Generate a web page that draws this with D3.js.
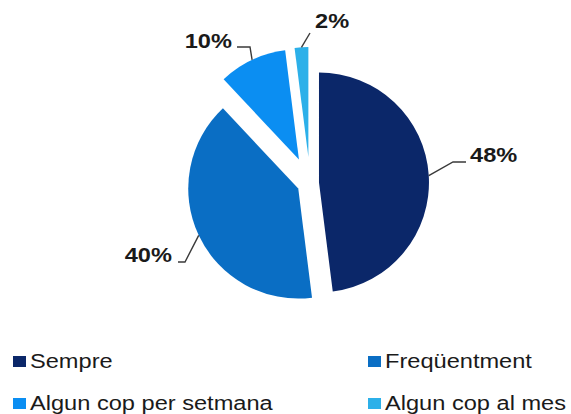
<!DOCTYPE html>
<html>
<head>
<meta charset="utf-8">
<script src="https://cdn.jsdelivr.net/npm/d3@7"></script>
<style>
  html, body { margin: 0; padding: 0; background: #fff; }
  svg { display: block; }
  text { font-family: "Liberation Sans", Arial, sans-serif; }
</style>
</head>
<body>
<svg id="chart" width="571" height="414"></svg>
<script>
// Survey answers: how often
const categories = ["Sempre", "Freqüentment", "Algun cop per setmana", "Algun cop al mes"];
const values = [48, 40, 10, 2];
const valueLabels = ["48%", "40%", "10%", "2%"];
const colors = ["#0b2769", "#0a6ec4", "#0b8ef2", "#2cb0e9"];

// Layout
const W = 571, H = 414;
const cx = 310, cy = 183, R = 110;
const explode = [9, 13, 26, 26];      // pull-out distance of each slice
const stretch = 1.18;                  // wide lettering

const svg = d3.select("#chart");

const pie = d3.pie().sort(null).value(d => d).startAngle(0).endAngle(2 * Math.PI);
const arcs = pie(values);
const arc = d3.arc().innerRadius(0).outerRadius(R);

const dir = a => [Math.sin(a), -Math.cos(a)];

const g = svg.append("g").attr("transform", `translate(${cx},${cy})`);

arcs.forEach((a, i) => {
  const mid = (a.startAngle + a.endAngle) / 2;
  const [ux, uy] = dir(mid);
  a.ox = ux * explode[i];
  a.oy = uy * explode[i];
  a.mid = mid;
});

g.selectAll("path.slice")
  .data(arcs)
  .join("path")
  .attr("class", "slice")
  .attr("d", arc)
  .attr("fill", (d, i) => colors[i])
  .attr("transform", d => `translate(${d.ox},${d.oy})`);

// Leader lines and value labels
const labelPlacement = [
  { elbow: [453, 162], end: [466, 162], x: 470, y: 162, anchor: "start" },
  { elbow: [185, 262], end: [178, 262], x: 172, y: 262, anchor: "end" },
  { elbow: [250, 47],  end: [237, 47],  x: 232, y: 48,  anchor: "end" },
  { elbow: [310, 33],  end: [310, 33],  x: 315, y: 28,  anchor: "start" }
];

function widen(sel, anchorX, anchor) {
  sel.each(function () {
    const w = this.getComputedTextLength() * stretch;
    const x = anchor === "end" ? anchorX - w : anchorX;
    d3.select(this)
      .attr("x", x)
      .attr("text-anchor", "start")
      .attr("textLength", w)
      .attr("lengthAdjust", "spacingAndGlyphs");
  });
}

arcs.forEach((a, i) => {
  const p = labelPlacement[i];
  const [ux, uy] = dir(a.mid);
  const sx = cx + a.ox + ux * R;
  const sy = cy + a.oy + uy * R;
  svg.append("polyline")
    .attr("points", [[sx, sy], p.elbow, p.end].map(q => q.join(",")).join(" "))
    .attr("fill", "none")
    .attr("stroke", "#3a3a3a")
    .attr("stroke-width", 1.4);
  const t = svg.append("text")
    .attr("x", p.x)
    .attr("y", p.y)
    .attr("font-size", 20)
    .attr("font-weight", "bold")
    .attr("fill", "#1a1a1a")
    .text(valueLabels[i]);
  widen(t, p.x, p.anchor);
});

// Legend
const legendPos = [
  { x: 13, y: 368 },
  { x: 368, y: 368 },
  { x: 13, y: 410 },
  { x: 368, y: 410 }
];

categories.forEach((c, i) => {
  const p = legendPos[i];
  svg.append("rect")
    .attr("x", p.x)
    .attr("y", p.y - 12)
    .attr("width", 13)
    .attr("height", 11)
    .attr("fill", colors[i]);
  const t = svg.append("text")
    .attr("x", p.x + 17)
    .attr("y", p.y)
    .attr("font-size", 20)
    .attr("fill", "#1a1a1a")
    .text(c);
  widen(t, p.x + 17, "start");
});
</script>
</body>
</html>
